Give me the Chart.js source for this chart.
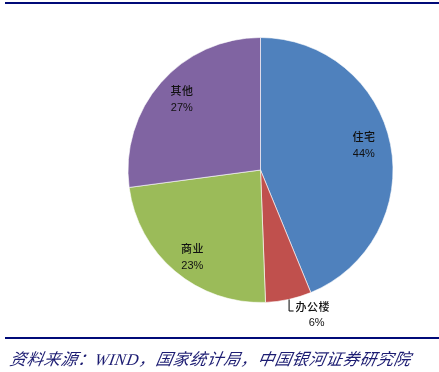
<!DOCTYPE html>
<html lang="zh">
<head>
    <meta charset="UTF-8">
    <title>商品房销售结构</title>
    <script src="https://cdn.jsdelivr.net/npm/chart.js"></script>
    <style>
        body {
            margin: 0;
            background: #fff;
        }
        .page {
            position: relative;
            width: 439px;
            height: 372px;
            overflow: hidden;
        }
        .rule {
            position: absolute;
            left: 5px;
            right: 0;
            height: 2px;
            background: #000a78;
        }
        .source {
            position: absolute;
            left: 8px;
            top: 346px;
            font-family: 'Liberation Serif', 'Noto Sans CJK SC', serif;
            font-style: italic;
            font-size: 16.5px;
            letter-spacing: 0.5px;
            color: #1c1c72;
            white-space: nowrap;
            transform: skewX(-10deg);
            transform-origin: left bottom;
        }
        #pie {
            position: absolute;
            left: 0;
            top: 0;
        }
    </style>
</head>
<body>
    <div class="page">
        <div class="rule" style="top: 2px;"></div>
        <canvas id="pie" width="439" height="372"></canvas>
        <div class="rule" style="top: 337px;"></div>
        <div class="source">资料来源：WIND，国家统计局，中国银河证券研究院</div>
    </div>
    <script>
        const categories = ['住宅', '办公楼', '商业', '其他'];
        const shares = [43.8, 5.6, 23.5, 27.1];
        const shareLabels = ['44%', '6%', '23%', '27%'];
        const colors = ['#4f81bd', '#c0504d', '#9bbb59', '#8064a2'];

        // slice labels: inside near 0.81 r, office label sits outside with a leader line
        const sliceLabels = {
            id: 'sliceLabels',
            afterDraw(chart) {
                const ctx = chart.ctx;
                const arcs = chart.getDatasetMeta(0).data;
                const nudge = [[-2, -4], [0, 0], [1, 5], [2, 0]];
                ctx.save();
                ctx.fillStyle = '#111';
                ctx.textAlign = 'center';
                ctx.textBaseline = 'middle';
                arcs.forEach((arc, i) => {
                    const mid = (arc.startAngle + arc.endAngle) / 2;
                    const r = arc.outerRadius;
                    let x, y, px;
                    if (i === 1) {
                        const ex = arc.x + Math.cos(mid) * r;
                        const ey = arc.y + Math.sin(mid) * r;
                        ctx.strokeStyle = '#000';
                        ctx.lineWidth = 1;
                        ctx.beginPath();
                        ctx.moveTo(ex + 0.5, ey);
                        ctx.lineTo(ex + 0.5, ey + 11.5);
                        ctx.lineTo(ex + 5, ey + 11.5);
                        ctx.stroke();
                        x = ex + 24;
                        px = ex + 28;
                        y = ey + 15;
                    } else {
                        x = arc.x + Math.cos(mid) * r * 0.81 + nudge[i][0];
                        y = arc.y + Math.sin(mid) * r * 0.81 + nudge[i][1];
                        px = x;
                    }
                    ctx.letterSpacing = '0.5px';
                    ctx.font = '500 11px "Noto Sans CJK SC"';
                    ctx.fillText(categories[i], x + 0.25, y - 8);
                    ctx.letterSpacing = '0px';
                    ctx.font = '11px "Liberation Sans"';
                    ctx.fillText(shareLabels[i], px, y + 8.5);
                });
                ctx.restore();
            }
        };

        new Chart(document.getElementById('pie'), {
            type: 'pie',
            data: {
                labels: categories,
                datasets: [{
                    data: shares,
                    backgroundColor: colors,
                    borderColor: 'rgba(255,255,255,0.6)',
                    borderWidth: 1
                }]
            },
            options: {
                responsive: false,
                animation: false,
                layout: {
                    padding: { left: 127, right: 45, top: 37, bottom: 69 }
                },
                plugins: {
                    legend: { display: false },
                    tooltip: { enabled: false }
                }
            },
            plugins: [sliceLabels]
        });
    </script>
</body>
</html>
